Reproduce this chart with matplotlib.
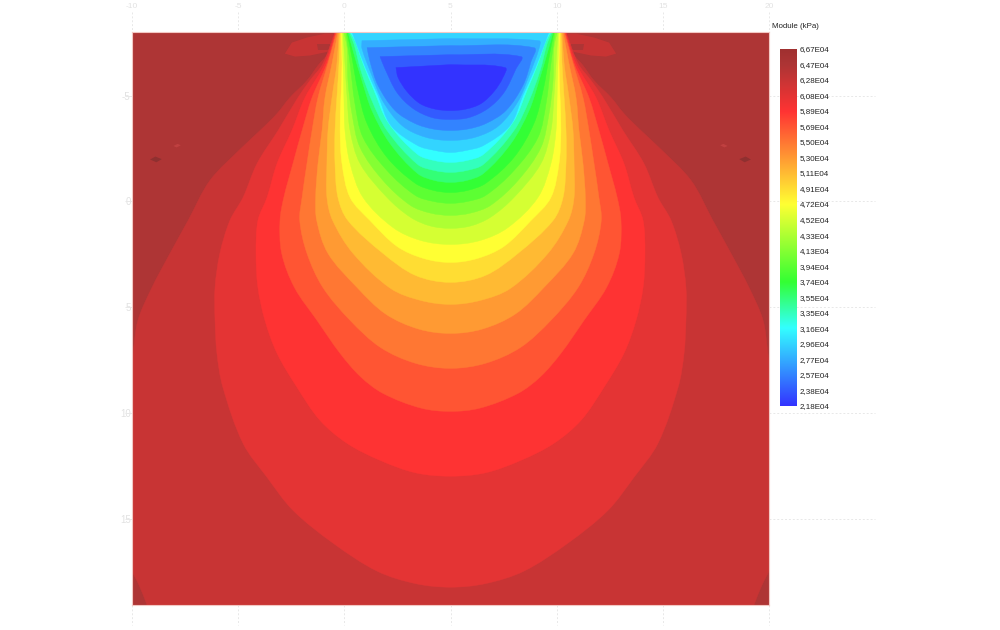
#!/usr/bin/env python
# -*- coding: utf-8 -*-

"""Carte de module (kPa) sous semelle : isovaleurs symetriques autour de x = 5."""

import numpy as np
import matplotlib
matplotlib.use("Agg")
import matplotlib.pyplot as plt
from matplotlib.colors import LinearSegmentedColormap
from matplotlib.patches import PathPatch
from matplotlib.path import Path

plt.rcParams['font.family'] = ['Liberation Sans', 'DejaVu Sans']

AXIS_X = 5.0

# niveaux de la legende (en 1E04 kPa)
levels = [6.67, 6.47, 6.28, 6.08, 5.89, 5.69, 5.50, 5.30, 5.11, 4.91, 4.72, 4.52,
          4.33, 4.13, 3.94, 3.74, 3.55, 3.35, 3.16, 2.96, 2.77, 2.57, 2.38, 2.18]
level_labels = ['6,67E04', '6,47E04', '6,28E04', '6,08E04', '5,89E04', '5,69E04',
                '5,50E04', '5,30E04', '5,11E04', '4,91E04', '4,72E04', '4,52E04',
                '4,33E04', '4,13E04', '3,94E04', '3,74E04', '3,55E04', '3,35E04',
                '3,16E04', '2,96E04', '2,77E04', '2,57E04', '2,38E04', '2,18E04']

x_ticks = [-10, -5, 0, 5, 10, 15, 20]
y_ticks = [-5, 0, 5, 10, 15]
y_tick_labels = ['-5', '0', '5', '10', '15']

# isovaleurs : demi-largeur autour de l'axe (w) et profondeur (y)
w_647 = [5.49, 5.68, 6.24, 6.76, 7.56, 8.17, 8.97, 9.82, 11.33, 12.36, 13.21, 14.06, 14.72, 14.95, 15.05, 15.05, 15.05, 14.67, 14.29, 14.2]
y_647 = [-8.0, -7.12, -6.42, -5.71, -4.91, -4.15, -3.35, -2.55, -0.99, 0.90, 2.45, 4.06, 5.61, 7.17, 8.0, 12.0, 17.2, 18.11, 19.06, 19.5]
w_628 = [5.44, 6.01, 6.62, 7.18, 8.12, 9.11, 9.77, 10.39, 10.86, 11.09, 11.09, 11.0, 10.72, 9.77, 8.64, 7.42, 5.53, 3.46, 1.65, 0]
y_628 = [-8.0, -6.51, -5.71, -4.91, -3.35, -1.79, -0.19, 0.90, 2.45, 4.06, 5.61, 7.17, 8.77, 11.42, 13.02, 14.58, 16.13, 17.45, 18.04, 18.21]
w_608 = [5.42, 5.91, 6.85, 7.47, 8.17, 8.64, 9.07, 9.16, 9.07, 8.74, 8.17, 7.23, 6.15, 4.87, 3.32, 1.65, 0]
y_608 = [-8.0, -6.51, -4.91, -3.35, -1.79, -0.19, 0.90, 2.45, 4.06, 5.61, 7.17, 8.77, 10.33, 11.42, 12.22, 12.81, 12.97]
w_589 = [5.39, 5.82, 6.52, 6.99, 7.42, 7.85, 8.03, 7.95, 7.35, 6.29, 5.20, 4.24, 3.18, 1.41, 0]
y_589 = [-8.0, -6.51, -4.91, -3.35, -1.79, -0.19, 0.90, 2.45, 4.06, 5.61, 7.17, 8.27, 9.06, 9.75, 9.91]
w_569 = [5.35, 5.77, 6.24, 6.52, 6.76, 6.99, 7.10, 6.76, 6.01, 4.73, 3.30, 1.65, 0]
y_569 = [-8.0, -6.51, -4.91, -3.35, -1.79, -0.19, 0.90, 2.45, 4.06, 5.61, 6.89, 7.64, 7.88]
w_550 = [5.30, 5.58, 5.91, 6.05, 6.24, 6.35, 6.30, 5.77, 4.40, 3.06, 1.51, 0]
y_550 = [-8.0, -6.51, -4.91, -3.35, -1.79, -0.19, 0.90, 2.45, 4.06, 5.31, 6.02, 6.23]
w_530 = [5.25, 5.35, 5.58, 5.77, 5.82, 5.82, 5.55, 4.59, 2.83, 1.41, 0]
y_530 = [-8.0, -6.51, -4.91, -3.35, -1.79, -0.19, 0.90, 2.45, 4.10, 4.67, 4.86]
w_511 = [5.20, 5.25, 5.35, 5.44, 5.44, 5.30, 4.83, 3.18, 1.65, 0]
y_511 = [-8.0, -6.51, -4.91, -3.35, -1.79, -0.19, 0.90, 2.45, 3.49, 3.82]
w_491 = [5.16, 5.11, 5.16, 5.20, 5.11, 4.73, 3.79, 2.52, 1.27, 0]
y_491 = [-8.0, -6.51, -4.91, -3.35, -1.79, -0.19, 0.90, 2.12, 2.69, 2.88]
w_472 = [5.11, 5.06, 5.02, 4.97, 4.73, 4.12, 2.71, 1.41, 0]
y_472 = [-8.0, -6.51, -4.91, -3.35, -1.79, -0.19, 1.23, 1.84, 2.03]
w_452 = [5.06, 4.97, 4.87, 4.73, 4.26, 2.99, 1.88, 0.94, 0]
y_452 = [-8.0, -6.51, -4.91, -3.35, -1.79, -0.19, 0.75, 1.16, 1.27]
w_433 = [5.02, 4.87, 4.83, 4.64, 4.26, 3.18, 1.88, 0.94, 0]
y_433 = [-8.0, -7.26, -5.71, -4.15, -2.55, -0.99, 0.19, 0.55, 0.66]
w_413 = [4.92, 4.73, 4.50, 4.12, 2.99, 1.65, 0.80, 0]
y_413 = [-8.0, -6.51, -4.62, -3.02, -1.46, -0.28, 0.0, 0.09]
w_394 = [4.87, 4.64, 4.36, 3.93, 2.99, 1.65, 0.80, 0]
y_394 = [-8.0, -6.79, -5.24, -3.68, -2.08, -0.85, -0.52, -0.42]
w_374 = [4.83, 4.59, 4.17, 3.70, 2.85, 1.55, 0.75, 0]
y_374 = [-8.0, -7.12, -5.71, -4.29, -2.74, -1.32, -0.99, -0.90]
w_355 = [4.78, 4.55, 4.22, 3.70, 2.99, 1.55, 0.75, 0]
y_355 = [-8.0, -7.45, -6.18, -4.76, -3.35, -1.75, -1.46, -1.37]
w_335 = [4.73, 4.50, 4.12, 3.60, 2.94, 1.55, 0.75, 0]
y_335 = [-8.0, -7.59, -6.51, -5.24, -3.73, -2.22, -1.93, -1.84]
w_316 = [4.64, 4.40, 3.98, 3.41, 2.80, 1.55, 0.75, 0]
y_316 = [-8.0, -7.36, -6.27, -5.0, -3.58, -2.64, -2.41, -2.31]
# les quatre dernieres courbes se referment sous la surface
w_296 = [4.17, 4.17, 3.70, 3.18, 2.28, 1.20, 0]
y_296 = [-7.59, -7.22, -5.94, -4.72, -3.58, -3.04, -2.88]
w_277 = [3.93, 3.79, 3.41, 2.61, 1.67, 0.82, 0]
y_277 = [-7.26, -6.60, -5.47, -4.29, -3.68, -3.42, -3.35]
w_257 = [3.32, 3.09, 2.52, 1.77, 0.87, 0]
y_257 = [-6.84, -6.27, -5.14, -4.39, -3.96, -3.87]
w_238 = [2.57, 2.47, 2.05, 1.44, 0.73, 0]
y_238 = [-6.32, -5.85, -5.19, -4.62, -4.36, -4.29]
top_296, top_277, top_257, top_238 = -7.69, -7.36, -6.93, -6.46

# zones isolees pres du bord de la semelle et petites taches
w_blob = [7.80, 7.47, 6.76, 5.91, 5.53, 5.53, 6.62, 7.32]
y_blob = [-6.98, -7.50, -7.74, -7.92, -7.92, -7.12, -6.89, -6.84]
w_core = [6.29, 5.68, 5.68, 6.24]
y_core = [-7.45, -7.45, -7.17, -7.17]
w_spot1 = [14.15, 13.90, 13.60, 13.85]
y_spot1 = [-1.98, -2.12, -2.00, -1.85]
w_spot2 = [13.05, 12.85, 12.70, 12.90]
y_spot2 = [-2.62, -2.72, -2.65, -2.55]

open_curves = [(6.47, w_647, y_647), (6.28, w_628, y_628), (6.08, w_608, y_608),
               (5.89, w_589, y_589), (5.69, w_569, y_569), (5.50, w_550, y_550),
               (5.30, w_530, y_530), (5.11, w_511, y_511), (4.91, w_491, y_491),
               (4.72, w_472, y_472), (4.52, w_452, y_452), (4.33, w_433, y_433),
               (4.13, w_413, y_413), (3.94, w_394, y_394), (3.74, w_374, y_374),
               (3.55, w_355, y_355), (3.35, w_335, y_335), (3.16, w_316, y_316)]
closed_curves = [(2.96, w_296, y_296, top_296), (2.77, w_277, y_277, top_277),
                 (2.57, w_257, y_257, top_257), (2.38, w_238, y_238, top_238)]

cmap_values = [2.18, 3.16, 3.74, 4.72, 5.89, 6.47, 6.67]
cmap_colors = ['#3333ff', '#33ffff', '#33ff33', '#ffff33', '#ff3333', '#ae3535', '#a03030']
stops = [(v - levels[-1]) / (levels[0] - levels[-1]) for v in cmap_values]
module_cmap = LinearSegmentedColormap.from_list('module', list(zip(stops, cmap_colors)), N=512)


def value_color(value):
    return module_cmap((value - levels[-1]) / (levels[0] - levels[-1]))


def lower_level(value):
    return levels[levels.index(value) + 1]


def smooth_path(xs, ys):
    """Chemin de Bezier passant par les points, tangentes ponderees par la longueur des cordes."""
    pts = np.column_stack([xs, ys])
    tangents = []
    for i in range(len(pts)):
        d = pts[min(i + 1, len(pts) - 1)] - pts[max(i - 1, 0)]
        tangents.append(d / max(np.hypot(*d), 1e-9))
    verts = [pts[0]]
    codes = [Path.MOVETO]
    for i in range(len(pts) - 1):
        step = np.hypot(*(pts[i + 1] - pts[i])) / 3
        verts += [pts[i] + tangents[i] * step, pts[i + 1] - tangents[i + 1] * step, pts[i + 1]]
        codes += [Path.CURVE4] * 3
    verts.append(pts[0])
    codes.append(Path.CLOSEPOLY)
    return Path(verts, codes)


def both_sides(w, y):
    w = np.asarray(w, dtype=float)
    y = np.asarray(y, dtype=float)
    # le point central n'est pas repete
    if w[-1] == 0:
        right_w, right_y = w[-2::-1], y[-2::-1]
    else:
        right_w, right_y = w[::-1], y[::-1]
    xs = np.concatenate([AXIS_X - w, AXIS_X + right_w])
    ys = np.concatenate([y, right_y])
    return xs, ys


def add_band(ax, xs, ys, color, zorder):
    patch = PathPatch(smooth_path(xs, ys), facecolor=color, edgecolor=color, lw=0.3, zorder=zorder)
    ax.add_patch(patch)
    patch.set_clip_path(ax.patch)


fig = plt.figure(figsize=(10, 6.3), dpi=100)
ax = fig.add_axes([0.132, 1 - 605 / 630, 0.637, (605 - 32) / 630])
ax.set_xlim(-10, 20)
ax.set_ylim(19.05, -8)
ax.set_facecolor(value_color(6.47))

z = 2
for level, w, y in open_curves:
    xs, ys = both_sides(w, y)
    add_band(ax, xs, ys, value_color(lower_level(level)), z)
    z += 1
for level, w, y, top in closed_curves:
    xs, ys = both_sides(w, y)
    xs = np.append(xs, AXIS_X)
    ys = np.append(ys, top)
    add_band(ax, xs, ys, value_color(lower_level(level)), z)
    z += 1

# taches de part et d'autre de l'axe, au-dessus du fond rouge sombre
for sign in (-1, 1):
    ax.fill(AXIS_X + sign * np.array(w_blob), y_blob, color=value_color(6.28), lw=0, zorder=2.5)
    ax.fill(AXIS_X + sign * np.array(w_core), y_core, color=value_color(6.47), lw=0, zorder=2.6)
    ax.fill(AXIS_X + sign * np.array(w_spot1), y_spot1, color='#8f3030', lw=0, zorder=2.5)
    ax.fill(AXIS_X + sign * np.array(w_spot2), y_spot2, color='#c04040', lw=0, zorder=2.5)

# graduations tres pales, hors du cadre
grid_color = '#e8e8e8'
ax.vlines(x_ticks, -8.95, -8, color=grid_color, lw=0.7, ls=(0, (2, 2)), clip_on=False)
ax.vlines(x_ticks, 19.05, 20.0, color=grid_color, lw=0.7, ls=(0, (2, 2)), clip_on=False)
ax.hlines(y_ticks, 20, 25, color=grid_color, lw=0.7, ls=(0, (2, 2)), clip_on=False)
ax.hlines(y_ticks, -10.35, -10, color=grid_color, lw=0.7, clip_on=False)

ax.set_xticks(x_ticks)
ax.set_xticklabels([str(v) for v in x_ticks])
ax.set_yticks(y_ticks)
ax.set_yticklabels(y_tick_labels)
ax.tick_params(axis='x', top=True, labeltop=True, bottom=False, labelbottom=False,
               length=0, pad=16, labelsize=6, labelcolor='#e2e2e2')
ax.tick_params(axis='y', left=True, length=0, pad=1, labelsize=7, labelcolor='#e2e2e2')
for spine in ax.spines.values():
    spine.set_color('#f3c8c4')
    spine.set_linewidth(0.8)
    spine.set_zorder(50)

# legende en degrade
cax = fig.add_axes([0.780, 1 - 406 / 630, 0.017, (406 - 49) / 630])
gradient = np.linspace(levels[0], levels[-1], 512).reshape(-1, 1)
cax.imshow(gradient, aspect='auto', cmap=module_cmap, vmin=levels[-1], vmax=levels[0],
           extent=[0, 1, levels[-1], levels[0]], origin='upper')
cax.set_xticks([])
cax.set_ylim(levels[-1], levels[0])
cax.yaxis.tick_right()
cax.set_yticks(levels)
cax.set_yticklabels(level_labels)
cax.tick_params(axis='y', length=0, pad=2.2, labelsize=5.8, labelcolor='#222222')
for spine in cax.spines.values():
    spine.set_visible(False)

fig.text(0.7725, 1 - 26 / 630, 'Module (kPa)', fontsize=5.7, color='#222222', va='center', ha='left')

fig.savefig('out.png', dpi=100, facecolor='white')
